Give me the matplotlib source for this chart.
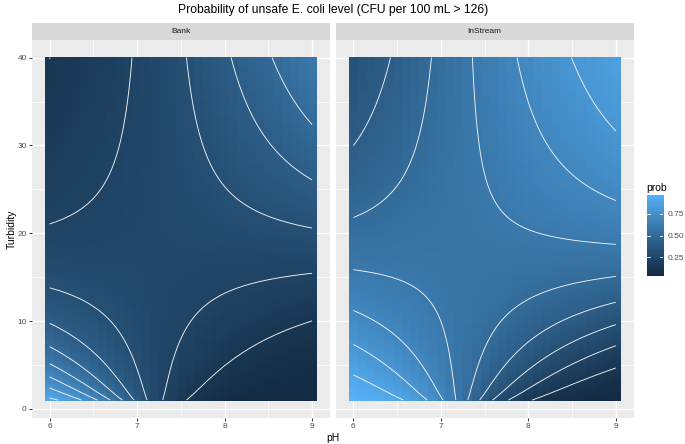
import numpy as np
import matplotlib
matplotlib.use("Agg")
import matplotlib.pyplot as plt
from matplotlib.colors import ListedColormap, Normalize

plt.rcParams['font.family'] = ['Liberation Sans', 'DejaVu Sans']

# logistic fit:
# logit(p) = site + b*pH + c*log(turb) + d*pH*log(turb)
sites = ["Bank", "InStream"]
site_intercept = [20.49, 21.92]
coef_ph = -3.0
coef_logturb = -7.56
coef_ph_logturb = 1.048

ph_grid = np.round(np.arange(6.0, 9.0001, 0.1), 1)
turb_grid = np.round(np.arange(1.0, 40.0001, 0.1), 1)

contour_levels = [0.1, 0.2, 0.3, 0.4, 0.5, 0.6, 0.7, 0.8, 0.9]
x_ticks = [6, 7, 8, 9]
y_ticks = [0, 10, 20, 30, 40]
cbar_ticks = [0.25, 0.50, 0.75]
cbar_labels = ["0.25", "0.50", "0.75"]


def predict(a):
    X, T = np.meshgrid(ph_grid, np.log(turb_grid))
    lp = a + coef_ph * X + coef_logturb * T + coef_ph_logturb * X * T
    return 1 / (1 + np.exp(-lp))


# ggplot's default gradient (#132B43 -> #56B1F7) interpolated in Lab
def srgb_to_lab(rgb):
    c = np.asarray(rgb, float)
    c = np.where(c > 0.04045, ((c + 0.055) / 1.055) ** 2.4, c / 12.92)
    M = np.array([[0.4124, 0.3576, 0.1805],
                  [0.2126, 0.7152, 0.0722],
                  [0.0193, 0.1192, 0.9505]])
    xyz = M @ c / np.array([0.95047, 1.0, 1.08883])
    f = np.where(xyz > 0.008856, np.cbrt(xyz), 7.787 * xyz + 16 / 116)
    return np.array([116 * f[1] - 16, 500 * (f[0] - f[1]), 200 * (f[1] - f[2])])


def lab_to_srgb(lab):
    L, a, b = lab
    fy = (L + 16) / 116
    fx = fy + a / 500
    fz = fy - b / 200
    f = np.array([fx, fy, fz])
    xyz = np.where(f > 0.2069, f ** 3, (f - 16 / 116) / 7.787) * np.array([0.95047, 1.0, 1.08883])
    Minv = np.array([[3.2406, -1.5372, -0.4986],
                     [-0.9689, 1.8758, 0.0415],
                     [0.0557, -0.2040, 1.0570]])
    c = Minv @ xyz
    c = np.where(c > 0.0031308, 1.055 * np.clip(c, 0, None) ** (1 / 2.4) - 0.055, 12.92 * c)
    return np.clip(c, 0, 1)


lo = srgb_to_lab(matplotlib.colors.to_rgb("#132B43"))
hi = srgb_to_lab(matplotlib.colors.to_rgb("#56B1F7"))
cmap = ListedColormap([lab_to_srgb(lo + (hi - lo) * t) for t in np.linspace(0, 1, 256)])

probs = [predict(a) for a in site_intercept]
norm = Normalize(vmin=min(p.min() for p in probs), vmax=max(p.max() for p in probs))

fig = plt.figure(figsize=(6.85, 4.44), dpi=100)
W, H = 685, 444

panel_x = [31.7, 335.5]
panel_w = 298.3
panel_top, panel_bot = 40.0, 417.7
strip_top = 22.7

for i, site in enumerate(sites):
    ax = fig.add_axes([panel_x[i] / W, 1 - panel_bot / H, panel_w / W, (panel_bot - panel_top) / H])
    ax.set_facecolor('#EBEBEB')
    ax.imshow(probs[i], origin='lower', extent=[5.95, 9.05, 0.95, 40.05], aspect='auto',
              cmap=cmap, norm=norm, interpolation='nearest', zorder=1)
    ax.contour(ph_grid, turb_grid, probs[i], levels=contour_levels, colors='#F2F2F2',
               linewidths=0.65, zorder=2)
    ax.set_xlim(5.795, 9.205)
    ax.set_ylim(-1.005, 42.005)
    ax.set_xticks(x_ticks)
    ax.set_yticks(y_ticks)
    ax.set_xticks([6.5, 7.5, 8.5], minor=True)
    ax.set_yticks([5, 15, 25, 35], minor=True)
    ax.grid(True, which='major', color='white', lw=1.0, zorder=0.5)
    ax.grid(True, which='minor', color='white', lw=0.5, zorder=0.5)
    ax.set_axisbelow(True)
    for s in ax.spines.values():
        s.set_visible(False)
    ax.tick_params(which='major', length=2.0, width=0.7, color='#333333',
                   labelsize=6, labelcolor='#4D4D4D', pad=1.5)
    ax.tick_params(which='minor', length=0)
    if i > 0:
        ax.tick_params(axis='y', which='both', left=False, labelleft=False)

    sax = fig.add_axes([panel_x[i] / W, 1 - panel_top / H, panel_w / W, (panel_top - strip_top) / H])
    sax.set_facecolor('#D9D9D9')
    sax.set_xticks([])
    sax.set_yticks([])
    for s in sax.spines.values():
        s.set_visible(False)
    sax.text(0.5, 0.5, site, ha='center', va='center', fontsize=6, color='#1A1A1A',
             transform=sax.transAxes)

fig.text(333 / W, 1 - 10 / H, "Probability of unsafe E. coli level (CFU per 100 mL > 126)",
         ha='center', va='center', fontsize=8.7)
fig.text(12 / W, 1 - 229 / H, "Turbidity", rotation=90, ha='center', va='center', fontsize=7.5)
fig.text(333 / W, 1 - 438 / H, "pH", ha='center', va='center', fontsize=7.5)

# colour bar
cb_lo, cb_hi = 0.037, 0.966
cax = fig.add_axes([646.7 / W, 1 - 275.7 / H, 16.3 / W, 80.4 / H])
grad = np.linspace(norm.vmin, norm.vmax, 300).reshape(-1, 1)
cax.imshow(grad, origin='lower', extent=[0, 1, cb_lo, cb_hi], aspect='auto',
           cmap=cmap, norm=norm, interpolation='nearest')
cax.set_xlim(0, 1)
cax.set_ylim(cb_lo, cb_hi)
for t in cbar_ticks:
    cax.plot([0, 0.2], [t, t], color='white', lw=0.6)
    cax.plot([0.8, 1], [t, t], color='white', lw=0.6)
cax.set_xticks([])
cax.yaxis.tick_right()
cax.set_yticks(cbar_ticks)
cax.set_yticklabels(cbar_labels)
cax.tick_params(axis='y', length=0, labelsize=6, labelcolor='#4D4D4D', pad=3)
for s in cax.spines.values():
    s.set_visible(False)
fig.text(646 / W, 1 - 188 / H, "prob", ha='left', va='center', fontsize=7.5)

fig.savefig("out.png", dpi=100)
